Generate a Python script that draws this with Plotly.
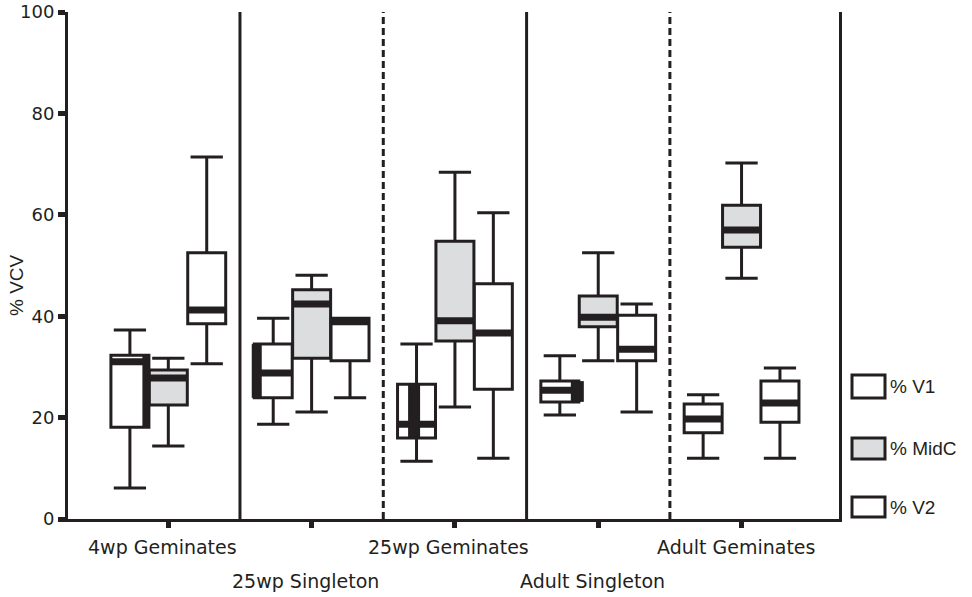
import plotly.graph_objects as go

# ---------------- data ----------------
groups = ["4wp Geminates", "25wp Singleton", "25wp Geminates", "Adult Singleton", "Adult Geminates"]
series = ["% V1", "% MidC", "% V2"]

# per series: lists over groups
v1_low = [6.1, 18.7, 11.4, 20.5, 12.0]
v1_q1 = [18.1, 23.9, 16.0, 23.1, 17.0]
v1_med = [31.0, 28.8, 18.7, 25.4, 19.7]
v1_q3 = [32.3, 34.5, 26.6, 27.2, 22.7]
v1_high = [37.3, 39.6, 34.5, 32.2, 24.5]

mid_low = [14.4, 21.1, 22.1, 31.2, 47.5]
mid_q1 = [22.5, 31.7, 35.1, 37.9, 53.6]
mid_med = [27.8, 42.4, 39.1, 39.8, 57.0]
mid_q3 = [29.4, 45.2, 54.8, 44.0, 61.9]
mid_high = [31.7, 48.1, 68.4, 52.5, 70.2]

v2_low = [30.6, 23.9, 12.0, 21.1, 12.0]
v2_q1 = [38.5, 31.2, 25.6, 31.2, 19.1]
v2_med = [41.2, 38.9, 36.7, 33.5, 22.9]
v2_q3 = [52.5, 39.6, 46.4, 40.2, 27.2]
v2_high = [71.4, 39.6, 60.4, 42.4, 29.8]

y_ticks = [0, 20, 40, 60, 80, 100]

# ---------------- style ----------------
INK = "#231f20"
FONT = "Liberation Sans, Arial, sans-serif"
BLOCK = "DejaVu Sans, Liberation Sans, sans-serif"
fills = ["#ffffff", "#dcdddf", "#ffffff"]
offsets = [-0.268, 0.0, 0.268]
BW = 0.265

W, H = 972, 597
L, R, T, B = 68, 133, 12, 78
PW = W - L - R
PH = H - T - B


def px_x(px):
    return (px - L) / PW


def px_y(py):
    return (H - B - py) / PH


stats = [
    (v1_low, v1_q1, v1_med, v1_q3, v1_high),
    (mid_low, mid_q1, mid_med, mid_q3, mid_high),
    (v2_low, v2_q1, v2_med, v2_q3, v2_high),
]

fig = go.Figure()
gx = list(range(len(groups)))

for s, (lo, q1, med, q3, hi) in enumerate(stats):
    xs = [g + offsets[s] for g in gx]
    fig.add_trace(go.Box(
        x=xs, lowerfence=lo, q1=q1, median=med, q3=q3, upperfence=hi,
        width=BW, whiskerwidth=0.85, fillcolor=fills[s],
        line=dict(color=INK, width=3), name=series[s], showlegend=False,
        hoverinfo="skip",
    ))

# thick median bars
for s, (lo, q1, med, q3, hi) in enumerate(stats):
    mx, my = [], []
    for g in gx:
        c = g + offsets[s]
        mx += [c - BW / 2, c + BW / 2, None]
        my += [med[g], med[g], None]
    fig.add_trace(go.Scatter(x=mx, y=my, mode="lines",
                             line=dict(color=INK, width=7),
                             showlegend=False, hoverinfo="skip"))

# dark strips seen inside the V1 boxes (rendering artefact of the original)
strip_shift = [0.108, -0.115, -0.017, 0.122, None]
strip_px = [6, 10, 12, 13, 0]
for g in gx:
    if strip_shift[g] is None:
        continue
    c = g + offsets[0] + strip_shift[g]
    fig.add_trace(go.Scatter(x=[c, c], y=[v1_q1[g], v1_q3[g]], mode="lines",
                             line=dict(color=INK, width=strip_px[g]),
                             showlegend=False, hoverinfo="skip"))

shapes = []
# separators
for xb, dash in [(0.5, "solid"), (1.5, "7px,4px"), (2.5, "solid"), (3.5, "7px,4px")]:
    shapes.append(dict(type="line", xref="x", yref="paper", x0=xb, x1=xb, y0=0, y1=1,
                       line=dict(color=INK, width=3, dash=dash), layer="below"))

# legend (drawn)
leg_rows = [(375, 398), (438, 459), (497, 517)]
annotations = []
for s, (ya, yb) in enumerate(leg_rows):
    shapes.append(dict(type="rect", xref="paper", yref="paper",
                       x0=px_x(852), x1=px_x(885), y0=px_y(yb), y1=px_y(ya),
                       fillcolor=fills[s], line=dict(color=INK, width=3)))
    annotations.append(dict(xref="paper", yref="paper", x=px_x(888), y=px_y((ya + yb) / 2),
                            text=series[s], showarrow=False, xanchor="left", yanchor="middle",
                            font=dict(family=FONT, size=19, color=INK)))

# category labels in two staggered rows
for g in gx:
    row_y = 547 if g % 2 == 0 else 581
    annotations.append(dict(xref="x", yref="paper", x=g, y=px_y(row_y), xshift=-6,
                            text=groups[g], showarrow=False, xanchor="center", yanchor="middle",
                            font=dict(family=BLOCK, size=19, color=INK)))

# y-axis title
annotations.append(dict(xref="paper", yref="paper", x=px_x(16), y=px_y(285),
                        text="% VCV", textangle=-90, showarrow=False,
                        xanchor="center", yanchor="middle",
                        font=dict(family=FONT, size=19, color=INK)))

fig.update_layout(
    width=W, height=H,
    margin=dict(l=L, r=R, t=T, b=B),
    paper_bgcolor="white", plot_bgcolor="white",
    boxmode="overlay",
    shapes=shapes, annotations=annotations,
    font=dict(family=FONT, color=INK),
    xaxis=dict(range=[-0.7, 4.68], tickvals=gx, ticktext=[""] * len(gx),
               ticks="outside", ticklen=6, tickwidth=5, tickcolor=INK,
               showline=True, linewidth=3, linecolor=INK,
               showgrid=False, zeroline=False, automargin=False),
    yaxis=dict(range=[0, 100], tickvals=y_ticks, ticktext=[str(v) for v in y_ticks],
               ticks="outside", ticklen=7, tickwidth=5, tickcolor=INK,
               showline=True, linewidth=3, linecolor=INK, mirror=True,
               showgrid=False, zeroline=False, automargin=False,
               tickfont=dict(family=BLOCK, size=18, color=INK)),
)

fig.write_html("out.html",
               config={"displayModeBar": False, "staticPlot": True},
               post_script="document.body.style.margin='0';document.body.style.overflow='hidden';")
